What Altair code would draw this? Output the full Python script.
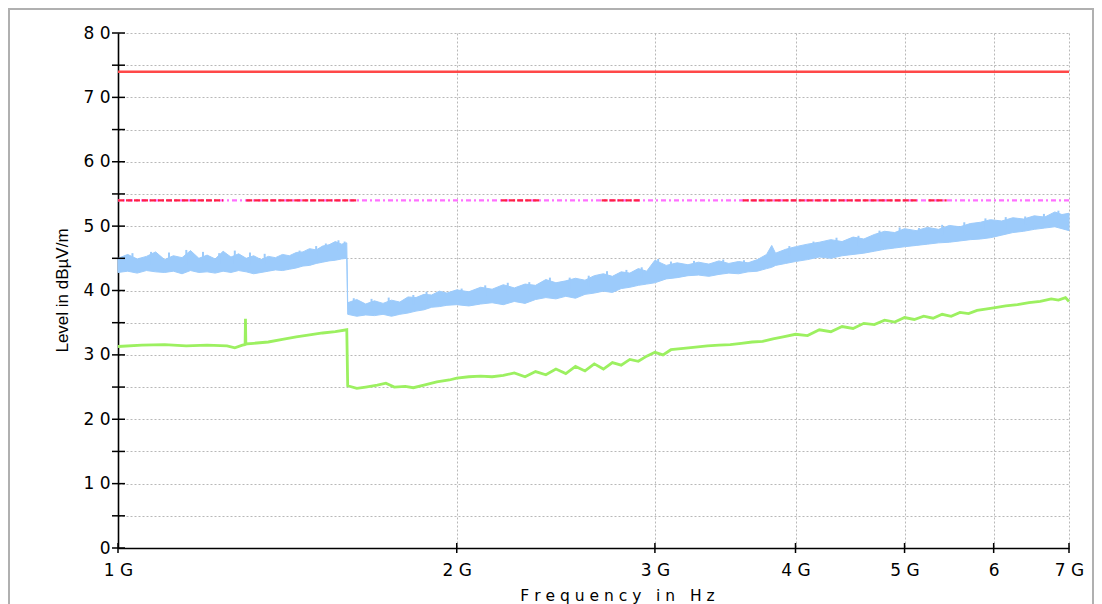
import altair as alt
import pandas as pd

# ---------------- data ----------------
# Frequencies in GHz, levels in dBµV/m

blue_freq = [1.00, 1.02, 1.04, 1.06, 1.08, 1.10, 1.12, 1.14, 1.16, 1.18,
             1.20, 1.22, 1.24, 1.26, 1.28, 1.30, 1.32, 1.34, 1.36, 1.38,
             1.40, 1.42, 1.44, 1.46, 1.48, 1.50, 1.52, 1.54, 1.56, 1.58,
             1.597, 1.600, 1.63, 1.66, 1.69, 1.72, 1.75, 1.78, 1.81, 1.84,
             1.87, 1.90, 1.93, 1.96, 2.00, 2.05, 2.10, 2.15, 2.20, 2.25,
             2.30, 2.35, 2.40, 2.45, 2.50, 2.55, 2.60, 2.65, 2.70, 2.75,
             2.80, 2.85, 2.90, 2.95, 3.00, 3.07, 3.14, 3.21, 3.28, 3.35,
             3.42, 3.49, 3.56, 3.63, 3.70, 3.77, 3.81, 3.84, 3.92, 4.00,
             4.10, 4.20, 4.30, 4.40, 4.50, 4.60, 4.70, 4.80, 4.90, 5.00,
             5.12, 5.24, 5.36, 5.48, 5.60, 5.72, 5.84, 5.96, 6.10, 6.24,
             6.38, 6.52, 6.66, 6.80, 6.90, 7.00]
blue_low = [42.8, 43.0, 42.7, 43.1, 42.9, 42.8, 43.0, 42.6, 43.1, 42.8,
            42.9, 42.7, 43.0, 42.8, 43.1, 42.9, 42.6, 42.8, 43.0, 43.2,
            43.1, 43.3, 43.5, 43.8, 43.9, 44.2, 44.4, 44.6, 44.7, 44.9,
            45.0, 36.3, 36.0, 36.2, 36.1, 36.3, 36.0, 36.3, 36.5, 36.8,
            37.0, 37.4, 37.5, 37.7, 37.8, 37.6, 37.9, 38.1, 37.8, 38.3,
            38.0, 38.6, 38.9, 38.7, 39.1, 38.8, 39.4, 39.6, 39.9, 39.7,
            40.3, 40.5, 40.8, 41.0, 41.2, 41.8, 42.0, 42.3, 42.4, 42.2,
            42.5, 42.7, 42.6, 42.9, 43.0, 43.4, 43.6, 43.9, 44.2, 44.5,
            44.8, 45.2, 45.0, 45.4, 45.6, 45.8, 46.1, 46.4, 46.6, 46.8,
            47.0, 47.2, 47.4, 47.5, 47.7, 47.9, 48.0, 48.2, 48.6, 49.0,
            49.2, 49.5, 49.7, 49.9, 49.6, 49.3]
blue_high = [45.0, 45.6, 44.9, 45.3, 46.0, 44.8, 45.4, 45.1, 46.2, 45.0,
             45.5, 44.9, 46.1, 45.2, 45.7, 45.0, 45.4, 44.8, 45.3, 45.1,
             45.6, 45.4, 45.9, 46.0, 46.5, 46.3, 46.9, 47.1, 47.6, 47.2,
             47.4, 38.1, 38.6, 37.9, 38.4, 38.0, 38.5, 38.2, 39.0, 38.9,
             39.4, 39.3, 39.9, 39.6, 40.1, 39.8, 40.5, 40.2, 40.9, 40.4,
             41.0, 40.8, 41.7, 41.2, 41.5, 41.9, 41.6, 42.3, 42.6, 42.2,
             42.9, 42.7, 43.4, 43.0, 44.7, 43.9, 44.3, 44.0, 44.4, 44.1,
             44.6, 44.2, 44.5, 44.3, 44.8, 45.6, 47.0, 45.8, 46.4, 46.8,
             47.2, 47.5, 47.9, 47.6, 48.3, 48.0, 48.7, 49.2, 49.0, 49.6,
             49.3, 49.8, 49.5, 50.1, 49.9, 50.4, 50.6, 51.0, 50.8, 51.3,
             51.1, 51.6, 51.4, 52.2, 51.8, 52.0]

# narrow noise spikes rising out of the blue band
spike_freq = [1.03, 1.07, 1.11, 1.15, 1.19, 1.23, 1.27, 1.31, 1.35, 1.45,
              1.50, 1.53, 1.57, 1.59, 1.62, 1.68, 1.74, 1.83, 1.88, 2.02,
              2.12, 2.22, 2.32, 2.42, 2.52, 2.62, 2.72, 2.83, 2.92, 3.02,
              3.10, 3.25, 3.45, 3.60, 3.95, 4.15, 4.35, 4.55, 4.75, 4.95,
              5.15, 5.40, 5.65, 5.90, 6.15, 6.40, 6.65, 6.85]
spike_top = [45.8, 46.0, 45.9, 46.3, 46.0, 45.8, 46.2, 45.9, 45.7, 46.2,
             46.9, 47.3, 47.8, 47.6, 38.8, 38.7, 38.9, 39.3, 39.8, 40.3,
             40.8, 41.2, 41.3, 42.0, 42.0, 42.3, 43.0, 43.2, 43.6, 44.9,
             44.5, 44.6, 44.8, 44.7, 46.9, 47.6, 48.2, 48.5, 49.3, 49.8,
             49.7, 50.2, 50.6, 51.2, 51.4, 51.5, 51.9, 52.4]
spike_base = [44.0, 44.0, 44.0, 44.0, 44.0, 44.0, 44.0, 44.0, 44.0, 44.8,
              45.2, 45.6, 46.0, 46.2, 37.2, 37.2, 37.2, 37.8, 38.2, 39.0,
              39.2, 39.4, 39.6, 40.2, 40.3, 40.6, 41.2, 41.7, 42.0, 42.6,
              43.0, 43.2, 43.4, 43.6, 45.4, 46.2, 46.5, 46.9, 47.5, 48.0,
              48.2, 48.5, 48.9, 49.4, 49.7, 50.2, 50.6, 51.0]

green_freq = [1.00, 1.05, 1.10, 1.15, 1.20, 1.25, 1.27, 1.29, 1.297, 1.298,
              1.299, 1.32, 1.36, 1.40, 1.44, 1.48, 1.52, 1.56, 1.597, 1.600,
              1.63, 1.66, 1.70, 1.73, 1.76, 1.80, 1.83, 1.87, 1.92, 1.97,
              2.00, 2.05, 2.10, 2.15, 2.20, 2.25, 2.30, 2.35, 2.40, 2.45,
              2.50, 2.55, 2.60, 2.65, 2.70, 2.75, 2.80, 2.85, 2.90, 2.95,
              3.00, 3.05, 3.10, 3.18, 3.26, 3.34, 3.42, 3.50, 3.58, 3.66,
              3.74, 3.82, 3.90, 4.00, 4.10, 4.20, 4.30, 4.40, 4.50, 4.60,
              4.70, 4.80, 4.90, 5.00, 5.10, 5.20, 5.30, 5.40, 5.50, 5.60,
              5.70, 5.80, 5.90, 6.00, 6.15, 6.30, 6.45, 6.60, 6.75, 6.85,
              6.95, 7.00]
green_level = [31.3, 31.5, 31.6, 31.4, 31.5, 31.4, 31.1, 31.5, 31.6, 35.6,
               31.7, 31.8, 32.0, 32.4, 32.8, 33.1, 33.4, 33.6, 33.9, 25.2,
               24.8, 25.0, 25.3, 25.6, 25.0, 25.1, 24.9, 25.3, 25.8, 26.1,
               26.4, 26.6, 26.7, 26.6, 26.8, 27.2, 26.6, 27.4, 26.9, 27.8,
               27.1, 28.2, 27.5, 28.6, 27.8, 28.8, 28.4, 29.3, 29.0, 29.8,
               30.4, 30.0, 30.8, 31.0, 31.2, 31.4, 31.5, 31.6, 31.8, 32.0,
               32.1, 32.5, 32.8, 33.2, 33.0, 33.9, 33.6, 34.4, 34.1, 34.9,
               34.7, 35.4, 35.1, 35.8, 35.5, 36.0, 35.7, 36.3, 36.0, 36.6,
               36.4, 36.9, 37.1, 37.3, 37.6, 37.8, 38.1, 38.3, 38.7, 38.5,
               38.9, 38.3]

peak_limit = [74]
avg_limit = [54]
avg_red_start = [1.00, 1.30, 2.19, 2.69, 3.59, 5.25]
avg_red_end = [1.24, 1.63, 2.37, 2.91, 5.14, 5.45]

x_tick_values = [1, 2, 3, 4, 5, 6, 7]
x_tick_labels = ["1 G", "2 G", "3 G", "4 G", "5 G", "6", "7 G"]
y_tick_values = [0, 5, 10, 15, 20, 25, 30, 35, 40, 45, 50, 55, 60, 65, 70, 75, 80]
y_label_values = [0, 10, 20, 30, 40, 50, 60, 70, 80]
y_tick_labels = ["0", "1 0", "2 0", "3 0", "4 0", "5 0", "6 0", "7 0", "8 0"]

x_title = "\u00a0".join(list("Frequency")) + "\u00a0\u00a0\u00a0" + "i\u00a0n" + "\u00a0\u00a0\u00a0" + "H\u00a0z"
y_title = "Level in dBµV/m"

# ---------------- tables ----------------
blue_df = pd.DataFrame({"freq": blue_freq, "level": blue_low, "level2": blue_high})
spike_df = pd.DataFrame({"freq": spike_freq, "level": spike_top, "level2": spike_base})
green_df = pd.DataFrame({"freq": green_freq, "level": green_level})
peak_df = pd.DataFrame({"level": peak_limit})
avg_df = pd.DataFrame({"level": avg_limit})
avg_red_df = pd.DataFrame({"freq": avg_red_start, "freq2": avg_red_end,
                           "level": avg_limit * len(avg_red_start)})
yt_df = pd.DataFrame({"level": y_tick_values})
xt_df = pd.DataFrame({"freq": x_tick_values})
frame_df = pd.DataFrame({"k": [0]})

W, H = 951, 515

x_expr = " : ".join(f"datum.value == {v} ? '{l}'" for v, l in zip(x_tick_values, x_tick_labels)) + " : ''"
y_expr = " : ".join(f"datum.value == {v} ? '{l}'" for v, l in zip(y_label_values, y_tick_labels)) + " : ''"

xscale = alt.Scale(type="log", domain=[1, 7], nice=False, zero=False)
yscale = alt.Scale(domain=[0, 80], nice=False, zero=False)

xaxis = alt.Axis(values=x_tick_values, labelExpr=x_expr, grid=True, ticks=False,
                 labelFlush=False, labelFont="DejaVu Sans", labelFontSize=17,
                 labelColor="#000000", labelPadding=14, domainColor="#000000",
                 domainWidth=1.6, gridColor="#b8b8b8", gridDash=[2, 2], gridWidth=1,
                 title=x_title, titleFont="DejaVu Sans", titleFontSize=15.5,
                 titleFontWeight="normal", titleColor="#000000",
                 titleX=499, titleY=52, titleAlign="center", titleBaseline="alphabetic")
yaxis = alt.Axis(values=y_tick_values, labelExpr=y_expr, grid=True, ticks=False,
                 labelFont="DejaVu Sans", labelFontSize=17, labelColor="#000000",
                 labelPadding=8, domainColor="#000000", domainWidth=1.6,
                 gridColor="#b8b8b8", gridDash=[2, 2], gridWidth=1,
                 title=y_title, titleFont="Liberation Sans", titleFontSize=17,
                 titleFontWeight="normal", titleColor="#000000",
                 titleX=-56, titleY=257, titleAngle=270, titleAlign="center",
                 titleBaseline="middle")

X = alt.X("freq:Q", scale=xscale, axis=xaxis)
Y = alt.Y("level:Q", scale=yscale, axis=yaxis)

BLUE = "#9ccbfb"

peak = alt.Chart(peak_df).mark_rule(color="#ff4848", strokeWidth=2.5).encode(y=Y)
avg_mag = alt.Chart(avg_df).mark_rule(color="#ff70ff", strokeWidth=2.2,
                                      strokeDash=[5, 3, 2, 3]).encode(y=Y)
avg_red = alt.Chart(avg_red_df).mark_rule(color="#ff2244", strokeWidth=2.2,
                                          strokeDash=[6, 2]).encode(x=X, x2="freq2:Q", y=Y)

blue = alt.Chart(blue_df).mark_area(color=BLUE, stroke=BLUE, strokeWidth=1,
                                    opacity=1).encode(x=X, y=Y, y2="level2:Q")
spikes = alt.Chart(spike_df).mark_rule(color=BLUE, strokeWidth=2).encode(
    x=X, y=Y, y2="level2:Q")
green = alt.Chart(green_df).mark_line(color="#9cf060", strokeWidth=2.8).encode(x=X, y=Y)

yticks = alt.Chart(yt_df).mark_rule(color="#000000", strokeWidth=1.5).encode(
    y=Y, x=alt.value(-6), x2=alt.value(7))
xticks = alt.Chart(xt_df).mark_rule(color="#000000", strokeWidth=1.5).encode(
    x=X, y=alt.value(H - 5), y2=alt.value(H + 5))

frame_left = alt.Chart(frame_df).mark_rule(color="#b0b0b0", strokeWidth=2).encode(
    x=alt.value(-109), y=alt.value(-25), y2=alt.value(H + 60))
frame_top = alt.Chart(frame_df).mark_rule(color="#b0b0b0", strokeWidth=2).encode(
    x=alt.value(-110), x2=alt.value(W + 25), y=alt.value(-24))
frame_right = alt.Chart(frame_df).mark_rule(color="#b0b0b0", strokeWidth=2).encode(
    x=alt.value(W + 24), y=alt.value(-25), y2=alt.value(H + 60))

chart = alt.layer(
    frame_left, frame_top, frame_right,
    peak, avg_mag, avg_red, blue, spikes, green, yticks, xticks
).properties(
    width=W, height=H,
    autosize=alt.AutoSizeParams(type="none"),
    padding={"left": 110, "top": 25, "right": 25, "bottom": 56},
    background="#ffffff",
).configure_view(strokeWidth=0)

chart.save("out.html", embed_options={"renderer": "svg", "actions": False})
